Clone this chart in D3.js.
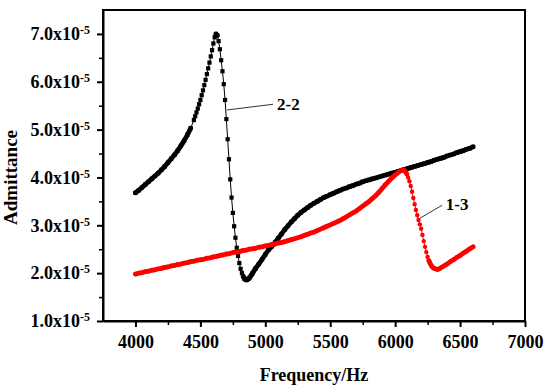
<!doctype html>
<html>
  <head>
    <meta charset="utf-8">
    <script src="https://d3js.org/d3.v7.min.js"></script>
    <style>
      body { margin: 0; background: #fff; }
      .axis path, .axis line { stroke: #000; stroke-width: 2; }
      .axis text { font-family: "Liberation Serif", serif; font-weight: bold; font-size: 18px; fill: #000; }
      .minor line { stroke: #000; stroke-width: 1.5; }
    </style>
  </head>
  <body>
    <script>
    // Admittance values in units of 1e-5
    var freq22 = [4000,4025,4050,4075,4100,4125,4150,4175,4200,4225,4250,4275,4300,4325,4350,4375,4400,4425,
      4450,4460,4470,4480,4490,4500,4510,4520,4530,4540,4550,4560,4570,4580,4590,4600,4610,4620,4630,4640,4650,
      4660,4670,4680,4690,4700,4710,4720,4730,4740,4750,4760,4770,4780,4790,4800,4810,4820,4830,4840,4850,4860,
      4870,4880,4890,4900,4925,4950,4975,5000,5025,5050,5075,5100,5125,5150,5175,5200,5225,5250,5275,5300,5325,
      5350,5375,5400,5425,5450,5475,5500,5525,5550,5575,5600,5625,5650,5675,5700,5725,5750,5775,5800,5825,5850,
      5875,5900,5925,5950,5975,6000,6025,6050,6075,6100,6125,6150,6175,6200,6225,6250,6275,6300,6325,6350,6375,
      6400,6425,6450,6475,6500,6525,6550,6575,6600];
    var adm22 = [3.68,3.73,3.79,3.85,3.91,3.97,4.03,4.09,4.16,4.23,4.31,4.39,4.47,4.56,4.66,4.77,4.89,5.03,
      5.20,5.28,5.36,5.44,5.53,5.62,5.72,5.82,5.93,6.04,6.16,6.28,6.40,6.53,6.66,6.80,6.93,7.00,6.97,6.85,6.68,
      6.45,6.22,5.95,5.62,5.22,4.80,4.38,3.96,3.58,3.26,2.98,2.74,2.53,2.36,2.21,2.09,2.00,1.93,1.88,1.86,1.86,
      1.88,1.91,1.95,1.99,2.10,2.19,2.29,2.39,2.49,2.56,2.64,2.73,2.82,2.91,2.99,3.07,3.14,3.21,3.27,3.32,3.37,
      3.42,3.46,3.50,3.54,3.58,3.61,3.64,3.67,3.70,3.73,3.76,3.78,3.81,3.83,3.86,3.88,3.91,3.93,3.95,3.97,3.99,
      4.01,4.03,4.05,4.07,4.09,4.11,4.13,4.15,4.17,4.19,4.21,4.23,4.25,4.27,4.29,4.31,4.33,4.36,4.38,4.40,4.42,
      4.45,4.47,4.49,4.52,4.54,4.56,4.59,4.61,4.64];

    var freq13 = [4000,4025,4050,4075,4100,4125,4150,4175,4200,4225,4250,4275,4300,4325,4350,4375,4400,4425,
      4450,4475,4500,4525,4550,4575,4600,4625,4650,4675,4700,4725,4750,4775,4800,4825,4850,4875,4900,4925,4950,
      4975,5000,5025,5050,5075,5100,5125,5150,5175,5200,5225,5250,5275,5300,5325,5350,5375,5400,5425,5450,5475,
      5500,5525,5550,5575,5600,5625,5650,5675,5700,5725,5750,5775,5800,5825,5850,5875,5900,5925,5950,5975,6000,
      6025,6050,6060,6070,6080,6090,6100,6110,6120,6130,6140,6150,6160,6170,6180,6190,6200,6210,6220,6230,6240,
      6250,6260,6270,6280,6290,6300,6310,6320,6330,6340,6350,6375,6400,6425,6450,6475,6500,6525,6550,6575,6600];
    var adm13 = [1.98,2.00,2.01,2.03,2.04,2.06,2.07,2.09,2.10,2.12,2.13,2.15,2.16,2.18,2.19,2.21,2.22,2.24,
      2.25,2.27,2.28,2.29,2.31,2.32,2.34,2.35,2.37,2.38,2.40,2.41,2.43,2.44,2.45,2.47,2.48,2.50,2.51,2.52,2.54,
      2.55,2.57,2.58,2.60,2.61,2.63,2.64,2.66,2.68,2.70,2.72,2.74,2.76,2.79,2.81,2.84,2.86,2.89,2.92,2.95,2.98,
      3.01,3.04,3.07,3.10,3.14,3.18,3.22,3.26,3.30,3.35,3.40,3.45,3.50,3.56,3.62,3.69,3.77,3.85,3.92,3.99,4.05,
      4.11,4.15,4.16,4.15,4.12,4.07,4.00,3.92,3.82,3.70,3.57,3.44,3.32,3.21,3.11,3.02,2.93,2.80,2.67,2.55,2.44,
      2.34,2.26,2.20,2.15,2.12,2.10,2.09,2.08,2.08,2.09,2.11,2.15,2.19,2.24,2.28,2.33,2.37,2.42,2.46,2.51,2.55];

    var xTicks = [4000,4500,5000,5500,6000,6500,7000];
    var yTicks = [1,2,3,4,5,6,7];

    var width = 550, height = 392;
    var margin = {top: 10, right: 25, bottom: 71, left: 103};
    var innerWidth = width - margin.left - margin.right;
    var innerHeight = height - margin.top - margin.bottom;

    var svg = d3.select("body").append("svg")
      .attr("width", width)
      .attr("height", height);

    var g = svg.append("g")
      .attr("transform", "translate(" + margin.left + "," + margin.top + ")");

    var x = d3.scaleLinear().domain([3750, 7000]).range([0, innerWidth]);
    var y = d3.scaleLinear().domain([1, 7.5]).range([innerHeight, 0]);

    // minor ticks
    g.append("g").attr("class", "minor")
      .attr("transform", "translate(0," + innerHeight + ")")
      .call(d3.axisBottom(x).tickValues(d3.range(4250, 7000, 500)).tickSize(4).tickFormat(""))
      .select(".domain").remove();
    g.append("g").attr("class", "minor")
      .call(d3.axisLeft(y).tickValues([1.5,2.5,3.5,4.5,5.5,6.5]).tickSize(4).tickFormat(""))
      .select(".domain").remove();

    // frame
    g.append("rect")
      .attr("width", innerWidth)
      .attr("height", innerHeight)
      .attr("fill", "none")
      .attr("stroke", "#000")
      .attr("stroke-width", 2);

    g.append("g").attr("class", "axis")
      .attr("transform", "translate(0," + innerHeight + ")")
      .call(d3.axisBottom(x).tickValues(xTicks).tickSize(6).tickSizeOuter(0).tickPadding(8)
        .tickFormat(d3.format("d")));

    var yAxis = g.append("g").attr("class", "axis")
      .call(d3.axisLeft(y).tickValues(yTicks).tickSize(6).tickSizeOuter(0).tickPadding(7)
        .tickFormat(function(d) { return d.toFixed(1) + "x10"; }));

    yAxis.selectAll(".tick text")
      .append("tspan")
      .attr("dy", "-0.5em")
      .style("font-size", "12px")
      .text("-5");

    // series: thin connecting line, thick where the (10 Hz) samples would overlap, then markers
    var line = d3.line()
      .x(function(d) { return x(d[0]); })
      .y(function(d) { return y(d[1]); });

    function crowded(pts) {
      var s = "";
      for (var i = 0; i < pts.length - 1; i++) {
        var x1 = x(pts[i][0]), y1 = y(pts[i][1]), x2 = x(pts[i + 1][0]), y2 = y(pts[i + 1][1]);
        var per10 = Math.hypot(x2 - x1, y2 - y1) * 10 / (pts[i + 1][0] - pts[i][0]);
        if (per10 < 3.3) s += "M" + x1 + "," + y1 + "L" + x2 + "," + y2;
      }
      return s;
    }

    var s22 = freq22.map(function(f, i) { return [f, adm22[i]]; });
    var s13 = freq13.map(function(f, i) { return [f, adm13[i]]; });

    g.append("path").datum(s22)
      .attr("fill", "none").attr("stroke", "#000").attr("stroke-width", 1)
      .attr("d", line);
    g.append("path")
      .attr("fill", "none").attr("stroke", "#000").attr("stroke-width", 4.8)
      .attr("stroke-linecap", "round")
      .attr("d", crowded(s22));
    g.selectAll(".sq").data(s22).enter().append("rect")
      .attr("class", "sq")
      .attr("x", function(d) { return x(d[0]) - 2.1; })
      .attr("y", function(d) { return y(d[1]) - 2.1; })
      .attr("width", 4.2).attr("height", 4.2)
      .attr("fill", "#000");

    g.append("path").datum(s13)
      .attr("fill", "none").attr("stroke", "#ff0000").attr("stroke-width", 1)
      .attr("d", line);
    g.append("path")
      .attr("fill", "none").attr("stroke", "#ff0000").attr("stroke-width", 4.8)
      .attr("stroke-linecap", "round")
      .attr("d", crowded(s13));
    g.selectAll(".ci").data(s13).enter().append("circle")
      .attr("class", "ci")
      .attr("cx", function(d) { return x(d[0]); })
      .attr("cy", function(d) { return y(d[1]); })
      .attr("r", 2.2)
      .attr("fill", "#ff0000");

    // annotations
    var notes = [
      {label: "2-2", from: [4705, 5.41], to: [5060, 5.53], text: [5090, 5.42]},
      {label: "1-3", from: [6192, 3.15], to: [6362, 3.42], text: [6390, 3.33]}
    ];
    notes.forEach(function(n) {
      g.append("line")
        .attr("x1", x(n.from[0])).attr("y1", y(n.from[1]))
        .attr("x2", x(n.to[0])).attr("y2", y(n.to[1]))
        .attr("stroke", "#000").attr("stroke-width", 0.8);
      g.append("text")
        .attr("x", x(n.text[0])).attr("y", y(n.text[1]))
        .attr("font-family", "Liberation Serif, serif")
        .attr("font-weight", "bold")
        .attr("font-size", "17px")
        .text(n.label);
    });

    // axis titles
    g.append("text")
      .attr("x", innerWidth / 2)
      .attr("y", innerHeight + 60)
      .attr("text-anchor", "middle")
      .attr("font-family", "Liberation Serif, serif")
      .attr("font-weight", "bold")
      .attr("font-size", "18px")
      .text("Frequency/Hz");

    g.append("text")
      .attr("transform", "translate(" + (-86) + "," + (innerHeight / 2 + 12) + ") rotate(-90)")
      .attr("text-anchor", "middle")
      .attr("font-family", "Liberation Serif, serif")
      .attr("font-weight", "bold")
      .attr("font-size", "19px")
      .text("Admittance");
    </script>
  </body>
</html>
